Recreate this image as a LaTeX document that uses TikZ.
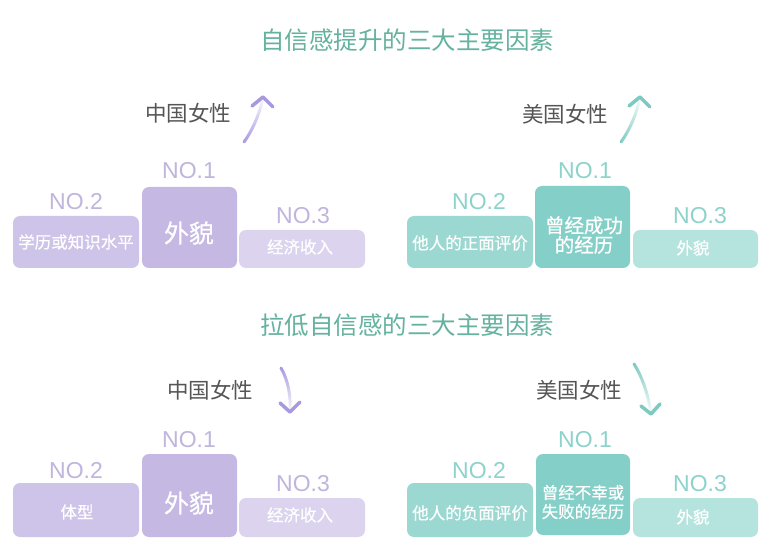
\documentclass[tikz,border=0pt]{standalone}
\usepackage{fontspec}
\setmainfont{Noto Sans CJK SC}
\newfontfamily\latinfont{Liberation Sans}
\newfontfamily\medfont[FakeBold=0.6]{Noto Sans CJK SC}
\usetikzlibrary{fadings}
\definecolor{pA}{HTML}{C5B8E2}
\definecolor{pB}{HTML}{CEC3E8}
\definecolor{pC}{HTML}{DCD4EF}
\definecolor{pLab}{HTML}{BFB5DD}
\definecolor{pArr}{HTML}{A898E0}
\definecolor{tA}{HTML}{84CFC8}
\definecolor{tB}{HTML}{9AD8D1}
\definecolor{tC}{HTML}{B5E4DF}
\definecolor{tLab}{HTML}{8DD3CB}
\definecolor{tArr}{HTML}{7CCAC0}
\definecolor{titleC}{HTML}{64B29F}
\definecolor{grayT}{HTML}{555555}
\tikzset{
  box/.style={rounded corners=7pt, inner sep=0pt, draw=none},
  btext/.style={text=white, inner sep=0pt, align=center, font=\medfont\fontsize{16.5}{19}\selectfont},
  bigtext/.style={text=white, inner sep=0pt, font=\medfont\fontsize{25}{28}\selectfont},
  nolab/.style={inner sep=0pt, font=\latinfont\fontsize{23}{26}\selectfont},
  ttl/.style={text=titleC, inner sep=0pt, font=\fontsize{24.5}{28}\selectfont},
  grp/.style={text=grayT, inner sep=0pt, font=\fontsize{21.5}{24}\selectfont},
  shaft/.style={line width=3pt, line cap=round},
  headc/.style={line width=3.5pt, line cap=round, line join=round},
}
\begin{document}
\begin{tikzpicture}[x=1pt,y=-1pt]
\useasboundingbox (0,0) rectangle (777,553);
\fill[white] (0,0) rectangle (777,553);

% titles
\node[ttl] (t1) at (407,40) {自信感提升的三大主要因素};
\node[ttl] (t2) at (407,325) {拉低自信感的三大主要因素};

% group labels
\node[grp] (cn1) at (188,113) {中国女性};
\node[grp] (us1) at (565,114) {美国女性};
\node[grp] (cn2) at (210,390) {中国女性};
\node[grp] (us2) at (579,390) {美国女性};

% arrows (up)
\coordinate (a1tail) at (244,142);
\coordinate (a1tip) at (263,97);
\draw[shaft, pArr, path fading=north] (a1tail) .. controls (254,128) and (260,112) .. (a1tip);
\draw[headc, pArr] ([shift={(-11,9)}]a1tip) -- (a1tip) -- ([shift={(10,10)}]a1tip);

\coordinate (a2tail) at (621,142);
\coordinate (a2tip) at (640,97);
\draw[shaft, tArr, path fading=north] (a2tail) .. controls (631,128) and (637,112) .. (a2tip);
\draw[headc, tArr] ([shift={(-11,9)}]a2tip) -- (a2tip) -- ([shift={(10,10)}]a2tip);

% arrows (down)
\coordinate (a3tail) at (281,368);
\coordinate (a3tip) at (290,412);
\draw[shaft, pArr, path fading=south] (a3tail) .. controls (288,380) and (291,396) .. (a3tip);
\draw[headc, pArr] ([shift={(-10,-9)}]a3tip) -- (a3tip) -- ([shift={(10,-10)}]a3tip);

\coordinate (a4tail) at (634,364);
\coordinate (a4tip) at (651,414);
\draw[shaft, tArr, path fading=south] (a4tail) .. controls (643,378) and (649,398) .. (a4tip);
\draw[headc, tArr] ([shift={(-10,-8)}]a4tip) -- (a4tip) -- ([shift={(9,-10)}]a4tip);

% ---------- top-left (purple) ----------
\node[box, fill=pB, minimum width=126pt, minimum height=52pt] (tl2) at (76,242) {};
\node[box, fill=pA, minimum width=95pt, minimum height=81pt] (tl1) at (189.5,227.5) {};
\node[box, fill=pC, minimum width=126pt, minimum height=38pt] (tl3) at (302,249) {};
\node[nolab, text=pLab] (tl1n) at (189,171) {NO.1};
\node[nolab, text=pLab] (tl2n) at (76,202) {NO.2};
\node[nolab, text=pLab] (tl3n) at (303,216) {NO.3};
\node[btext] (tl2t) at (76,242) {学历或知识水平};
\node[bigtext] (tl1t) at (189,233) {外貌};
\node[btext] (tl3t) at (300,247) {经济收入};

% ---------- top-right (teal) ----------
\node[box, fill=tB, minimum width=126pt, minimum height=52pt] (tr2) at (470,242) {};
\node[box, fill=tA, minimum width=95pt, minimum height=82pt] (tr1) at (582.5,227) {};
\node[box, fill=tC, minimum width=125pt, minimum height=38pt] (tr3) at (695.5,249) {};
\node[nolab, text=tLab] (tr1n) at (585,171) {NO.1};
\node[nolab, text=tLab] (tr2n) at (479,202) {NO.2};
\node[nolab, text=tLab] (tr3n) at (700,216) {NO.3};
\node[btext] (tr2t) at (470,243) {他人的正面评价};
\node[btext, font=\medfont\fontsize{19.5}{19.5}\selectfont] (tr1t) at (584,235) {曾经成功\\的经历};
\node[btext] (tr3t) at (693,248) {外貌};

% ---------- bottom-left (purple) ----------
\node[box, fill=pB, minimum width=126pt, minimum height=54pt] (bl2) at (76,510) {};
\node[box, fill=pA, minimum width=95pt, minimum height=83pt] (bl1) at (189.5,495.5) {};
\node[box, fill=pC, minimum width=126pt, minimum height=39pt] (bl3) at (302,517.5) {};
\node[nolab, text=pLab] (bl1n) at (189,440) {NO.1};
\node[nolab, text=pLab] (bl2n) at (76,471) {NO.2};
\node[nolab, text=pLab] (bl3n) at (303,484) {NO.3};
\node[btext] (bl2t) at (77,512) {体型};
\node[bigtext] (bl1t) at (189,503) {外貌};
\node[btext] (bl3t) at (300,515) {经济收入};

% ---------- bottom-right (teal) ----------
\node[box, fill=tB, minimum width=126pt, minimum height=54pt] (br2) at (470,510) {};
\node[box, fill=tA, minimum width=94pt, minimum height=81pt] (br1) at (583,494.5) {};
\node[box, fill=tC, minimum width=125pt, minimum height=39pt] (br3) at (695.5,517.5) {};
\node[nolab, text=tLab] (br1n) at (585,440) {NO.1};
\node[nolab, text=tLab] (br2n) at (479,471) {NO.2};
\node[nolab, text=tLab] (br3n) at (700,484) {NO.3};
\node[btext] (br2t) at (470,513) {他人的负面评价};
\node[btext] (br1t) at (583,502) {曾经不幸或\\失败的经历};
\node[btext] (br3t) at (693,517) {外貌};
\end{tikzpicture}
\end{document}
